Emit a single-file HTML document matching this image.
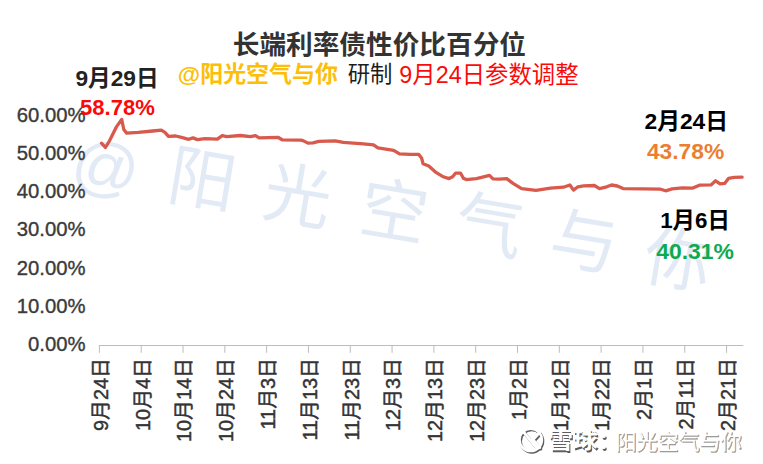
<!DOCTYPE html>
<html lang="zh"><head><meta charset="utf-8"><title>长端利率债性价比百分位</title>
<style>html,body{margin:0;padding:0;background:#fff;font-family:"Liberation Sans",sans-serif}body{width:763px;height:464px;overflow:hidden}svg{display:block}svg text{font-family:"Liberation Sans","Noto Sans CJK SC",sans-serif}</style>
</head><body><svg width="763" height="464" viewBox="0 0 763 464" role="img" aria-label="长端利率债性价比百分位"><g transform="translate(105.2 171.0) rotate(9.5)"><text x="0" y="18.55" font-size="66" fill="#e2eaf6" text-anchor="middle">@</text></g><g transform="translate(202.5 179.2) rotate(9.5)"><text x="0" y="24.47" font-size="67.5" fill="#e2eaf6" text-anchor="middle">阳</text></g><g transform="translate(298.0 194.5) rotate(9.5)"><text x="0" y="25.62" font-size="67.5" fill="#e2eaf6" text-anchor="middle">光</text></g><g transform="translate(394.5 208.5) rotate(9.5)"><text x="0" y="27.07" font-size="67.5" fill="#e2eaf6" text-anchor="middle">空</text></g><g transform="translate(489.9 224.5) rotate(9.5)"><text x="0" y="25.79" font-size="67.5" fill="#e2eaf6" text-anchor="middle">气</text></g><g transform="translate(584.4 240.6) rotate(9.5)"><text x="0" y="25.39" font-size="67.5" fill="#e2eaf6" text-anchor="middle">与</text></g><g transform="translate(678.5 258.5) rotate(9.5)"><text x="0" y="25.48" font-size="67.5" fill="#e2eaf6" text-anchor="middle">你</text></g><path d="M98.9 345.5H743.3" stroke="#bcbcbc" stroke-width="1" fill="none"/><path d="M99.40 345.5v7.3M141.21 345.5v7.3M183.02 345.5v7.3M224.83 345.5v7.3M266.64 345.5v7.3M308.45 345.5v7.3M350.26 345.5v7.3M392.07 345.5v7.3M433.88 345.5v7.3M475.69 345.5v7.3M517.50 345.5v7.3M559.31 345.5v7.3M601.12 345.5v7.3M642.93 345.5v7.3M684.74 345.5v7.3M726.55 345.5v7.3" stroke="#bcbcbc" stroke-width="1" fill="none"/><g fill="#3b3b3b" stroke="#3b3b3b" stroke-width="0.37" font-size="20.3" text-anchor="end"><text x="85.6" y="350.9">0.00%</text><text x="85.6" y="312.75">10.00%</text><text x="85.6" y="274.6">20.00%</text><text x="85.6" y="236.45">30.00%</text><text x="85.6" y="198.3">40.00%</text><text x="85.6" y="160.15">50.00%</text><text x="85.6" y="122">60.00%</text></g><g fill="#333333" stroke="#333333" stroke-width="0.44" font-size="19.9" text-anchor="end"><text transform="translate(107.70 358.00) rotate(-90)">9月24日</text><text transform="translate(149.51 358.00) rotate(-90)">10月4日</text><text transform="translate(191.32 358.00) rotate(-90)">10月14日</text><text transform="translate(233.13 358.00) rotate(-90)">10月24日</text><text transform="translate(274.94 358.00) rotate(-90)">11月3日</text><text transform="translate(316.75 358.00) rotate(-90)">11月13日</text><text transform="translate(358.56 358.00) rotate(-90)">11月23日</text><text transform="translate(400.37 358.00) rotate(-90)">12月3日</text><text transform="translate(442.18 358.00) rotate(-90)">12月13日</text><text transform="translate(483.99 358.00) rotate(-90)">12月23日</text><text transform="translate(525.80 358.00) rotate(-90)">1月2日</text><text transform="translate(567.61 358.00) rotate(-90)">1月12日</text><text transform="translate(609.42 358.00) rotate(-90)">1月22日</text><text transform="translate(651.23 358.00) rotate(-90)">2月1日</text><text transform="translate(693.04 358.00) rotate(-90)">2月11日</text><text transform="translate(734.85 358.00) rotate(-90)">2月21日</text></g><path d="M101.5 143.2 L105.4 147.5 L109.4 141.0 L116.6 126.6 L121.7 119.4 L123.8 129.5 L126.7 133.1 L138.3 132.4 L152.7 131.0 L161.3 130.2 L164.9 132.4 L168.5 136.4 L175.7 136.0 L181.5 137.4 L188.7 139.3 L193.0 137.9 L197.4 139.6 L205.0 138.6 L217.3 139.2 L222.3 135.6 L226.7 136.6 L240.4 135.5 L250.5 136.6 L255.5 135.6 L259.1 137.8 L277.9 137.3 L282.2 139.8 L300.9 140.2 L303.6 140.9 L307.9 143.1 L313.0 142.8 L318.7 141.3 L335.3 140.9 L343.3 142.3 L363.4 143.8 L373.5 144.8 L377.9 147.8 L393.7 150.3 L399.5 153.9 L410.0 154.3 L418.7 154.4 L421.6 158.0 L423.1 163.8 L428.8 166.0 L436.0 172.4 L443.3 176.8 L449.0 178.6 L452.6 176.8 L455.5 173.2 L460.6 173.2 L463.4 178.2 L466.3 179.6 L476.4 178.6 L483.6 176.8 L489.4 175.3 L493.0 178.9 L499.5 179.2 L506.7 178.6 L513.0 183.4 L521.6 188.6 L536.0 190.4 L550.5 188.2 L563.4 187.2 L569.9 185.0 L573.5 190.1 L577.9 186.8 L583.6 185.8 L594.4 185.5 L599.5 188.6 L606.7 186.8 L611.5 185.0 L617.3 186.0 L623.1 188.6 L643.3 188.9 L660.6 189.2 L665.6 190.8 L672.1 188.9 L682.2 187.9 L692.9 188.1 L699.4 185.2 L711.0 184.9 L715.6 180.8 L720.1 183.9 L724.6 183.4 L728.5 178.4 L734.3 177.4 L742.1 177.1" stroke="#d85a4d" stroke-width="3.3" fill="none" stroke-linejoin="round" stroke-linecap="round"/><text x="232.74" y="53.96" font-size="26.66" font-weight="bold" fill="#333333">长端利率债性价比百分位</text><text x="177.84" y="82.48" font-size="22.95" font-weight="bold" fill="#fdbe08">@阳光空气与你</text><text x="347.68" y="82.21" font-size="22.36" fill="#1c1c1c">研制</text><text x="399.37" y="82.55" font-size="23.37" fill="#fb0a0a">9月24日参数调整</text><text x="117.0" y="86.46" font-size="22.7" font-weight="bold" fill="#222222" text-anchor="middle">9月29日</text><text x="117.4" y="114.86" font-size="22.06" font-weight="bold" fill="#fb0a0a" text-anchor="middle">58.78%</text><text x="686.3" y="129.02" font-size="22.8" font-weight="bold" fill="#000000" text-anchor="middle">2月24日</text><text x="685.6" y="158.84" font-size="22.81" font-weight="bold" fill="#ec7e30" text-anchor="middle">43.78%</text><text x="695.0" y="227.89" font-size="22.4" font-weight="bold" fill="#000000" text-anchor="middle">1月6日</text><text x="695.1" y="259.29" font-size="22.95" font-weight="bold" fill="#0daa50" text-anchor="middle">40.31%</text><filter id="sb" x="-5%" y="-20%" width="110%" height="140%"><feGaussianBlur stdDeviation="0.6"/></filter><g transform="translate(1.1 0.6)" filter="url(#sb)"><g transform="translate(-1.1 -1.0)"><circle cx="531.8" cy="441.6" r="11.2" fill="none" stroke="#5c5c5c" stroke-width="2.6"/><path d="M524.4 433.4L537.8 449.8M540.6 434.4L534.0 441.6L540.8 449.4" stroke="#5c5c5c" stroke-width="3" fill="none" stroke-linecap="round"/></g><text x="548.34" y="448.91" font-size="22" font-weight="bold" fill="#5c5c5c" textLength="49.6" lengthAdjust="spacingAndGlyphs">雪球</text><text x="598.5" y="449.2" font-size="21" font-weight="bold" fill="#5c5c5c">：</text></g><g transform="translate(0.8 0.3)" filter="url(#sb)"><text x="615.59" y="449.46" font-size="21" fill="#9a9a9a" stroke="#9a9a9a" stroke-width="0.52">阳光空气与你</text></g><g transform="translate(0 -0.8)"><g transform="translate(-1.1 -1.0)"><circle cx="531.8" cy="441.6" r="11.2" fill="none" stroke="#ffffff" stroke-width="2.6"/><path d="M524.4 433.4L537.8 449.8M540.6 434.4L534.0 441.6L540.8 449.4" stroke="#ffffff" stroke-width="3" fill="none" stroke-linecap="round"/></g><text x="548.34" y="448.91" font-size="22" font-weight="bold" fill="#ffffff" textLength="49.6" lengthAdjust="spacingAndGlyphs">雪球</text><text x="598.5" y="449.2" font-size="21" font-weight="bold" fill="#ffffff">：</text><text x="615.59" y="449.46" font-size="21" fill="#ffffff">阳光空气与你</text></g></svg></body></html>
